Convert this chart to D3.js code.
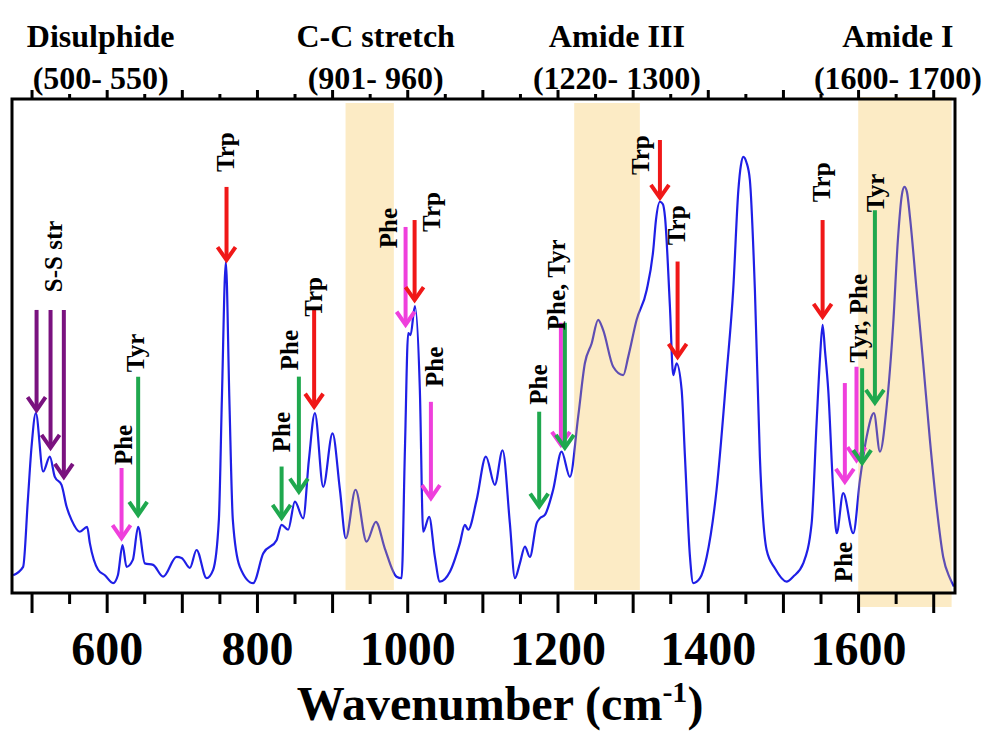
<!DOCTYPE html>
<html><head><meta charset="utf-8">
<script src="https://cdn.jsdelivr.net/npm/d3@7"></script>
<style>
html,body{margin:0;padding:0;background:#fff}
svg{display:block}
text{font-family:"Liberation Serif","Times New Roman",serif;font-weight:bold;fill:#000}
</style>
</head><body>
<svg id="chart" width="986" height="733"></svg>
<script>
// ---- spectrum ----
const wavenumber = [475.5,488.8,495.1,500.0,505.7,515.4,524.4,531.0,539.9,546.6,553.2,564.3,574.0,577.6,588.6,597.6,608.6,614.9,621.1,626.4,634.8,641.9,650.8,661.8,675.2,693.0,699.7,710.7,719.6,732.9,741.7,749.3,753.3,758.6,763.3,767.9,777.2,795.0,808.3,826.1,832.8,841.5,850.5,861.5,869.1,877.1,888.2,900.6,910.4,918.3,931.2,945.9,958.3,970.2,985.8,992.5,996.9,1001.3,1004.4,1010.2,1016.8,1021.2,1029.2,1036.8,1043.4,1056.8,1070.1,1076.7,1081.1,1092.3,1104.7,1116.6,1126.9,1136.6,1143.3,1149.9,1156.6,1163.2,1172.2,1176.5,1183.2,1194.2,1205.4,1216.5,1227.5,1236.4,1245.4,1254.1,1260.8,1274.1,1287.5,1294.1,1305.3,1318.6,1327.4,1331.0,1336.3,1340.3,1343.0,1349.6,1354.0,1358.5,1365.2,1369.6,1376.3,1380.6,1389.6,1398.5,1411.7,1425.1,1433.8,1440.7,1444.1,1447.4,1451.4,1456.0,1462.7,1469.3,1478.3,1489.3,1504.9,1513.6,1527.0,1538.2,1544.8,1549.5,1552.8,1556.0,1560.3,1566.9,1571.5,1580.2,1593.6,1602.5,1611.4,1621.1,1629.1,1638.0,1646.8,1653.0,1658.3,1661.7,1665.0,1669.0,1677.9,1686.7,1695.6,1704.5,1713.3,1722.2,1727.5];
const intensity = [3.6,5.3,18.8,29.6,36.4,24.6,27.6,23.5,21.9,17.5,14.8,12.4,13.4,10.1,4.7,3.6,2.0,3.6,9.7,5.3,6.7,13.4,6.0,5.7,3.3,7.3,7.1,5.1,8.7,3.0,4.7,14.8,39.1,67.0,39.1,14.8,5.3,2.0,8.0,10.7,13.8,12.8,18.5,15.1,26.9,36.4,21.5,32.3,20.9,11.1,20.9,10.4,14.4,9.0,3.3,3.0,28.9,52.6,52.2,58.1,41.1,12.4,15.4,7.3,2.3,4.3,10.1,13.8,12.8,18.8,27.6,21.9,28.9,14.1,3.0,6.0,9.4,7.3,14.1,15.1,15.8,20.9,28.6,23.5,35.7,46.5,50.5,55.3,53.2,45.8,44.1,47.8,55.3,61.3,69.4,75.5,79.2,78.7,76.2,58.0,44.1,46.5,41.1,27.6,7.3,2.0,3.0,7.3,20.9,44.5,61.3,81.6,86.6,88.3,87.2,83.6,61.3,27.6,8.7,5.0,2.3,3.3,6.0,14.1,34.4,48.0,54.3,49.0,41.1,20.9,12.1,20.2,12.1,22.9,31.6,36.4,28.6,37.7,54.6,71.5,80.6,82.2,81.2,76.2,61.3,46.5,31.0,17.5,7.3,3.0,1.3];

// ---- shaded regions (wavenumber) ----
const bandStart = [917.9, 1222.2, 1600.2];
const bandEnd   = [982.2, 1309.6, 1724.5];

// ---- region headings on top ----
const regionNames  = ["Disulphide", "C-C stretch", "Amide III", "Amide I"];
const regionRanges = ["(500- 550)", "(901- 960)", "(1220- 1300)", "(1600- 1700)"];
const regionCenter = [592, 958, 1279, 1653];

// ---- arrows: position, top, tip (intensity), residue type ----
const arrowW    = [506.7,525.3,543.0,619.8,641.9,759.5,832.8,855.8,876.1,997.8,1009.8,1031.5,1175.6,1204.5,1209.8,1336.3,1359.8,1552.8,1582.4,1597.9,1605.4,1622.4];
const arrowTop  = [57.3,57.3,57.3,25.3,43.8,82.2,25.6,43.8,57.3,74.1,75.5,38.7,36.7,54.7,54.7,91.7,67.1,75.5,42.5,45.8,45.5,77.5];
const arrowTip  = [37.0,29.4,23.5,11.1,15.8,67.4,15.2,20.5,37.7,54.3,59.3,19.2,17.5,30.0,29.4,80.0,47.8,55.9,22.5,26.9,26.3,38.5];
const arrowKind = ["SS","SS","SS","Phe","Tyr","Trp","Tyr","Tyr","Trp","Phe","Trp","Phe","Tyr","Phe","Tyr","Trp","Trp","Trp","Phe","Phe","Tyr","Tyr"];

// ---- rotated labels: text, baseline position (wavenumber), start (intensity) ----
const labelText  = ["S-S str","Phe","Tyr","Trp","Phe","Phe","Trp","Phe","Trp","Phe","Phe","Phe, Tyr","Trp","Trp","Trp","Phe","Tyr, Phe","Tyr"];
const labelW     = [540.3,633.5,649.5,769.3,843.8,854.5,886.4,986.2,1043.5,1047.4,1185.9,1209.8,1321.2,1369.5,1562.5,1591.7,1611.8,1634.4];
const labelStart = [60.9,25.9,44.7,85.2,28.5,45.1,55.9,69.8,73.1,41.7,38.1,53.2,84.6,70.4,79.1,2.2,46.6,77.1];

// ---- axis ticks ----
const majorTicks = d3.range(500, 1701, 100);
const minorTicks = d3.range(550, 1701, 100);
const tickLabels = [600, 800, 1000, 1200, 1400, 1600];

const colors = {SS:"#7a127f", Phe:"#ef3fdc", Tyr:"#1fa84e", Trp:"#f01818"};

const svg = d3.select("#chart");
const L = 12, R = 955, T = 99, B = 593;
const x = d3.scaleLinear().domain([474, 1729]).range([L, R]);
const y = d3.scaleLinear().domain([0, 100]).range([B, T]);

// spectrum
const pts = wavenumber.map((w, i) => [w, intensity[i]]);
svg.append("path")
  .datum(pts)
  .attr("fill", "none")
  .attr("stroke", "#1f1fe6")
  .attr("stroke-width", 2.2)
  .attr("stroke-linejoin", "round")
  .attr("d", d3.line().x(d => x(d[0])).y(d => y(d[1])).curve(d3.curveMonotoneX));

// shaded bands (semi-transparent over curve)
bandStart.forEach((s, i) => {
  const last = i === bandStart.length - 1;
  const y0 = last ? T - 2 : T + 4;
  const y1 = last ? B + 14 : B - 3;
  svg.append("rect")
    .attr("x", x(s)).attr("width", x(bandEnd[i]) - x(s))
    .attr("y", y0).attr("height", y1 - y0)
    .attr("fill", "rgb(245,188,62)").attr("fill-opacity", 0.3);
});

// arrows
arrowW.forEach((w, i) => {
  const cx = x(w), yt = y(arrowTop[i]), yb = y(arrowTip[i]);
  const g = svg.append("g").attr("stroke", colors[arrowKind[i]]).attr("stroke-width", 4).attr("fill", "none");
  g.append("line").attr("x1", cx).attr("x2", cx).attr("y1", yt).attr("y2", yb - 1);
  g.append("path").attr("d", `M${cx-9},${yb-13}L${cx},${yb}L${cx+9},${yb-13}`).attr("stroke-linejoin", "miter");
});

// rotated labels
labelText.forEach((t, i) => {
  svg.append("text")
    .attr("transform", `translate(${x(labelW[i])},${y(labelStart[i])}) rotate(-90)`)
    .attr("font-size", 25)
    .text(t);
});

// frame
svg.append("rect").attr("x", L).attr("y", T).attr("width", R - L).attr("height", B - T)
  .attr("fill", "none").attr("stroke", "#000").attr("stroke-width", 3);

// bottom axis
const bMaj = svg.append("g").attr("transform", `translate(0,${B})`)
  .call(d3.axisBottom(x).tickValues(majorTicks).tickSize(20).tickFormat(d => tickLabels.includes(d) ? d : ""));
const bMin = svg.append("g").attr("transform", `translate(0,${B})`)
  .call(d3.axisBottom(x).tickValues(minorTicks).tickSize(11).tickFormat(""));
const tMaj = svg.append("g").attr("transform", `translate(0,${T})`)
  .call(d3.axisTop(x).tickValues(majorTicks).tickSize(9).tickFormat(""));
const tMin = svg.append("g").attr("transform", `translate(0,${T})`)
  .call(d3.axisTop(x).tickValues(minorTicks).tickSize(5).tickFormat(""));
[bMaj, bMin, tMaj, tMin].forEach(g => {
  g.select(".domain").remove();
  g.selectAll(".tick line").attr("stroke", "#000").attr("stroke-width", 3);
});
bMaj.selectAll(".tick text")
  .attr("y", 72).attr("dy", 0)
  .attr("font-size", 48).attr("font-family", "Liberation Serif, Times New Roman, serif")
  .attr("font-weight", "bold").attr("fill", "#000");

// region headings
regionNames.forEach((n, i) => {
  svg.append("text").attr("x", x(regionCenter[i])).attr("y", 47)
    .attr("text-anchor", "middle").attr("font-size", 32).text(n);
  svg.append("text").attr("x", x(regionCenter[i])).attr("y", 89)
    .attr("text-anchor", "middle").attr("font-size", 32).text(regionRanges[i]);
});

// axis title
const title = svg.append("text").attr("x", 500).attr("y", 720)
  .attr("text-anchor", "middle").attr("font-size", 48);
title.append("tspan").text("Wavenumber (cm");
title.append("tspan").attr("font-size", 30).attr("dy", -18).text("-1");
title.append("tspan").attr("dy", 18).text(")");
</script>
</body></html>
